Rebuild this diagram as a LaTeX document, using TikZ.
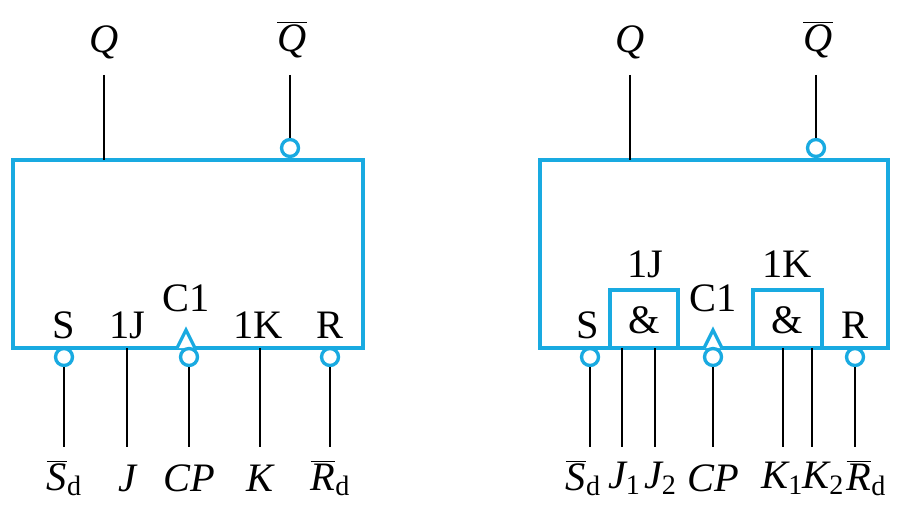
\documentclass[tikz,border=0pt]{standalone}
\usepackage{fontspec}
\setmainfont{Liberation Serif}
\begin{document}
\definecolor{cy}{RGB}{25,170,225}
\begin{tikzpicture}[x=0.02cm,y=-0.02cm,
 box/.style={draw=cy,line width=2.2pt},
 bub/.style={circle,draw=cy,line width=1.9pt,fill=white,inner sep=0pt,minimum size=17*0.02cm},
 wire/.style={line width=1.1pt},
 lab/.style={font=\fontsize{23}{26}\selectfont,inner sep=0pt},
 it/.style={font=\fontsize{23}{26}\selectfont\itshape,inner sep=0pt},
 tri/.style={draw=cy,line width=1.9pt,fill=white}]
\useasboundingbox (0,0) rectangle (916,510);
% ---- left
\draw[box] (13,160) rectangle (363,348);
\node[it] (q1) at (104,42) {Q};
\node[it] (qb1) at (292,40) {$\overline{\mbox{\itshape Q}}$};
\coordinate (q1t) at (104,75); \coordinate (q1b) at (104,160);
\draw[wire] (q1t) -- (q1b);
\node[bub] (bq1) at (290,148) {};
\coordinate (qb1t) at (290,75);
\draw[wire] (qb1t) -- (bq1);
\node[lab] at (64,325) {S};
\node[lab] at (127,325) {1J};
\node[lab] at (186,298) {C1};
\node[lab] at (258,325) {1K};
\node[lab] at (330,325) {R};
\draw[tri] (177,348) -- (186,330) -- (195,348);
\foreach \x/\n in {64/a,189/b,330/c}{\node[bub] (b\n) at (\x,357) {}; \coordinate (e\n) at (\x,447); \draw[wire] (b\n) -- (e\n);}
\foreach \x/\n in {127/j,260/k}{\coordinate (s\n) at (\x,348); \coordinate (e\n) at (\x,447); \draw[wire] (s\n) -- (e\n);}
\node[lab] at (64,478) {$\overline{\mbox{\itshape S}}$\raisebox{-0.3ex}{\fontsize{16}{17}\selectfont d}};
\node[it] at (127,478) {J};
\node[it] at (189,478) {CP};
\node[it] at (260,478) {K};
\node[lab] at (330,478) {$\overline{\mbox{\itshape R}}$\raisebox{-0.3ex}{\fontsize{16}{17}\selectfont d}};
% ---- right
\draw[box] (540,160) rectangle (888,348);
\node[it] at (630,42) {Q};
\node[it] at (818,40) {$\overline{\mbox{\itshape Q}}$};
\coordinate (q2t) at (630,75); \coordinate (q2b) at (630,160);
\draw[wire] (q2t) -- (q2b);
\node[bub] (bq2) at (816,148) {};
\coordinate (qb2t) at (816,75);
\draw[wire] (qb2t) -- (bq2);
\draw[box] (610,290) rectangle (678,348);
\draw[box] (753,290) rectangle (822,348);
\node[lab] at (644,320) {\&};
\node[lab] at (787,320) {\&};
\node[lab] at (645,264) {1J};
\node[lab] at (787,264) {1K};
\node[lab] at (588,325) {S};
\node[lab] at (713,298) {C1};
\node[lab] at (855,325) {R};
\draw[tri] (704,348) -- (713,330) -- (722,348);
\foreach \x/\n in {590/d,713/e,855/f}{\node[bub] (b\n) at (\x,357) {}; \coordinate (e\n) at (\x,447); \draw[wire] (b\n) -- (e\n);}
\foreach \x/\n in {622/ja,655/jb,783/ka,812/kb}{\coordinate (s\n) at (\x,348); \coordinate (e\n) at (\x,447); \draw[wire] (s\n) -- (e\n);}
\node[lab] at (583,478) {$\overline{\mbox{\itshape S}}$\raisebox{-0.3ex}{\fontsize{16}{17}\selectfont d}};
\node[lab] at (624,478) {\itshape J\raisebox{-0.3ex}{\upshape\fontsize{16}{17}\selectfont 1}};
\node[lab] at (660,478) {\itshape J\raisebox{-0.3ex}{\upshape\fontsize{16}{17}\selectfont 2}};
\node[it] at (713,478) {CP};
\node[lab] at (782,478) {\itshape K\raisebox{-0.3ex}{\upshape\fontsize{16}{17}\selectfont 1}};
\node[lab] at (823,478) {\itshape K\raisebox{-0.3ex}{\upshape\fontsize{16}{17}\selectfont 2}};
\node[lab] at (866,478) {$\overline{\mbox{\itshape R}}$\raisebox{-0.3ex}{\fontsize{16}{17}\selectfont d}};
\end{tikzpicture}
\end{document}
